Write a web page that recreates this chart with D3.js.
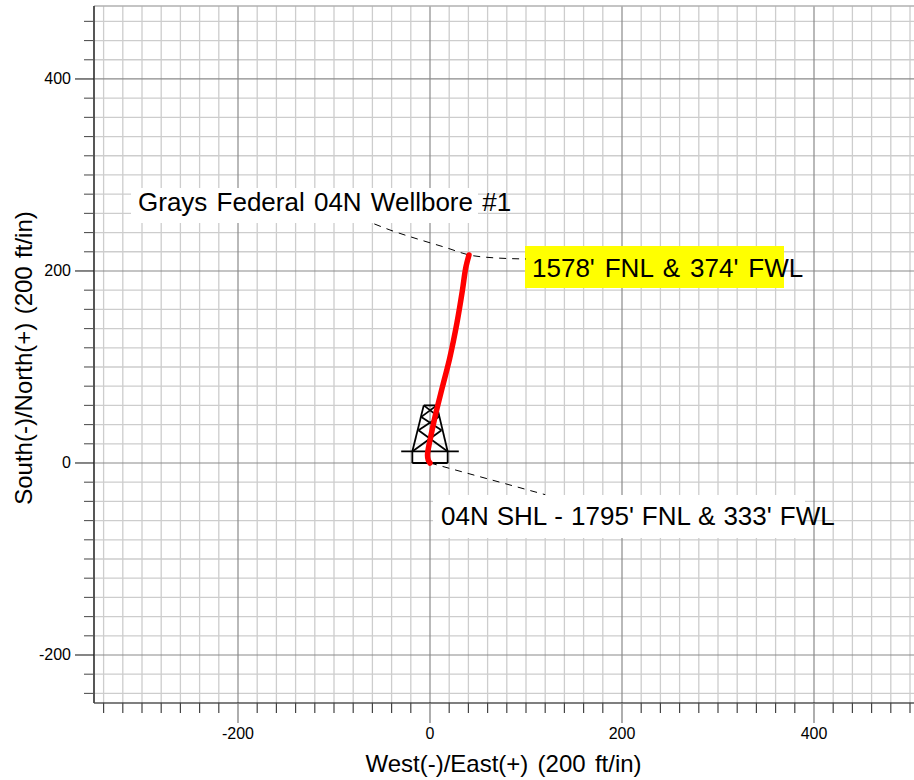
<!DOCTYPE html>
<html>
<head>
<meta charset="utf-8">
<script src="https://cdn.jsdelivr.net/npm/d3@7"></script>
<style>
  html, body { margin: 0; padding: 0; background: #fff; }
  svg { display: block; font-family: "Liberation Sans", Arial, sans-serif; }
</style>
</head>
<body>
<div id="plot"></div>
<script>
let width = 914;
let height = 780;

// tick values
const xMajor = [-200, 0, 200, 400];
const yMajor = [-200, 0, 200, 400];
const xTicks = d3.range(-340, 501, 20);
const yTicks = d3.range(-240, 461, 20);

// wellbore (east, north)
const wellEast = [0, -1.8, -2.6, -1.2, 0.5, 5.2, 13, 20.5, 28, 33.8, 37.2, 40.6];
const wellNorth = [0, 3, 8.3, 18, 26, 48, 79.5, 109, 145.5, 180, 203, 216.7];

// dashed leaders (east, north)
const leaderTopEast = [-58, -41.7, -12, 17.7, 40.6, 62.5, 100];
const leaderTopNorth = [249, 242.7, 233, 224, 216.7, 214, 212.5];
const leaderShlEast = [0, 60, 120];
const leaderShlNorth = [0, -16.5, -33];

// rig symbol segments [x1, y1, x2, y2]
const rigSegments = [
  [-30, 12, 30, 12],
  [-18.4, 0, 18.4, 0],
  [-18.4, 0, -18.4, 12],
  [18.4, 0, 18.4, 12],
  [-18.4, 12, -6.5, 60],
  [18.4, 12, 7, 60],
  [-6.5, 60, 7, 60],
  [-18.4, 12, 12, 34],
  [18.4, 12, -12, 34],
  [-12, 34, 9, 48],
  [12, 34, -9, 48],
  [-9, 48, 7, 60],
  [9, 48, -6.5, 60]
];

const labelTop = "Grays Federal 04N Wellbore #1";
const labelBhl = "1578' FNL & 374' FWL";
const labelShl = "04N SHL - 1795' FNL & 333' FWL";
const xTitle = "West(-)/East(+) (200 ft/in)";
const yTitle = "South(-)/North(+) (200 ft/in)";

let x = d3.scaleLinear().domain([-350, 505]).range([94, 914.8]);
let y = d3.scaleLinear().domain([-250, 476]).range([703, 6]);

let svg = d3.select("#plot").append("svg")
  .attr("width", width)
  .attr("height", height)
  .attr("viewBox", `0 0 ${width} ${height}`);

// grid, minor first
svg.append("g").selectAll("line")
  .data(xTicks.filter(d => !xMajor.includes(d)))
  .join("line")
  .attr("x1", d => x(d)).attr("x2", d => x(d))
  .attr("y1", y(476)).attr("y2", y(-250))
  .attr("stroke", "#cdcdcd").attr("stroke-width", 1.3);

svg.append("g").selectAll("line")
  .data(yTicks.filter(d => !yMajor.includes(d)))
  .join("line")
  .attr("x1", x(-350)).attr("x2", width)
  .attr("y1", d => y(d)).attr("y2", d => y(d))
  .attr("stroke", "#cdcdcd").attr("stroke-width", 1.3);

svg.append("g").selectAll("line")
  .data(xMajor)
  .join("line")
  .attr("x1", d => x(d)).attr("x2", d => x(d))
  .attr("y1", y(476)).attr("y2", y(-250))
  .attr("stroke", "#8a8a8a").attr("stroke-width", 1.2);

svg.append("g").selectAll("line")
  .data(yMajor)
  .join("line")
  .attr("x1", x(-350)).attr("x2", width)
  .attr("y1", d => y(d)).attr("y2", d => y(d))
  .attr("stroke", "#8a8a8a").attr("stroke-width", 1.2);

// top edge
svg.append("line")
  .attr("x1", x(-350)).attr("x2", width)
  .attr("y1", y(476)).attr("y2", y(476))
  .attr("stroke", "#b0b0b0").attr("stroke-width", 1.5);

// axes
let xAxis = d3.axisBottom(x)
  .offset(0)
  .tickValues(xTicks)
  .tickSize(10)
  .tickPadding(15)
  .tickSizeOuter(0)
  .tickFormat(d => xMajor.includes(d) ? d : "");
let xG = svg.append("g")
  .attr("transform", `translate(0,${y(-250)})`)
  .call(xAxis);
xG.select(".domain").attr("stroke", "#000").attr("stroke-width", 1.2);
xG.selectAll(".tick line")
  .attr("y2", d => xMajor.includes(d) ? 20 : 10)
  .attr("stroke", d => xMajor.includes(d) ? "#777" : "#444")
  .attr("stroke-width", 1.2);

let yAxis = d3.axisLeft(y)
  .offset(0)
  .tickValues(yTicks)
  .tickSize(10)
  .tickPadding(13)
  .tickSizeOuter(0)
  .tickFormat(d => yMajor.includes(d) ? d : "");
let yG = svg.append("g")
  .attr("transform", `translate(${x(-350)},0)`)
  .call(yAxis);
yG.select(".domain").attr("stroke", "#444").attr("stroke-width", 1.8);
yG.selectAll(".tick line")
  .attr("x2", d => yMajor.includes(d) ? -19 : -10)
  .attr("stroke", d => yMajor.includes(d) ? "#222" : "#555")
  .attr("stroke-width", 1.1);

svg.selectAll(".tick text")
  .attr("font-family", "Liberation Sans, Arial, sans-serif")
  .attr("font-size", 16)
  .attr("fill", "#000");

// label backgrounds
svg.append("rect").attr("x", 131).attr("y", 188).attr("width", 347).attr("height", 35).attr("fill", "#fff");
svg.append("rect").attr("x", 433).attr("y", 495).attr("width", 372).attr("height", 43).attr("fill", "#fff");
svg.append("rect").attr("x", 525).attr("y", 246).attr("width", 259).attr("height", 42).attr("fill", "#ffff00");

// rig symbol
svg.append("g").selectAll("line")
  .data(rigSegments)
  .join("line")
  .attr("x1", d => x(d[0])).attr("y1", d => y(d[1]))
  .attr("x2", d => x(d[2])).attr("y2", d => y(d[3]))
  .attr("stroke", "#000").attr("stroke-width", 1.8);

// leaders
let leader = d3.line()
  .x(d => x(d[0]))
  .y(d => y(d[1]))
  .curve(d3.curveMonotoneX);

svg.append("path")
  .attr("d", leader(d3.zip(leaderTopEast, leaderTopNorth)))
  .attr("fill", "none").attr("stroke", "#000").attr("stroke-width", 1)
  .attr("stroke-dasharray", "7,6");

svg.append("path")
  .attr("d", leader(d3.zip(leaderShlEast, leaderShlNorth)))
  .attr("fill", "none").attr("stroke", "#000").attr("stroke-width", 1)
  .attr("stroke-dasharray", "7,6");

// wellbore
let wellLine = d3.line()
  .x(d => x(d[0]))
  .y(d => y(d[1]))
  .curve(d3.curveCatmullRom);

svg.append("path")
  .attr("d", wellLine(d3.zip(wellEast, wellNorth)))
  .attr("fill", "none")
  .attr("stroke", "#ff0000")
  .attr("stroke-width", 5.5)
  .attr("stroke-linecap", "round");

// labels
function addLabel(txt, px, py, wordSpace) {
  return svg.append("text")
    .attr("x", px).attr("y", py)
    .attr("font-size", 26)
    .attr("word-spacing", wordSpace)
    .attr("fill", "#000")
    .text(txt);
}
addLabel(labelTop, 138, 211, 2);
addLabel(labelBhl, 532, 277, 2.7);
addLabel(labelShl, 441, 525, 0.8);

svg.append("text")
  .attr("x", 503.5).attr("y", 772)
  .attr("text-anchor", "middle")
  .attr("font-size", 24)
  .attr("word-spacing", 2.6)
  .text(xTitle);

svg.append("text")
  .attr("transform", "translate(31.5,358) rotate(-90)")
  .attr("text-anchor", "middle")
  .attr("font-size", 24)
  .attr("word-spacing", 1.7)
  .text(yTitle);
</script>
</body>
</html>
